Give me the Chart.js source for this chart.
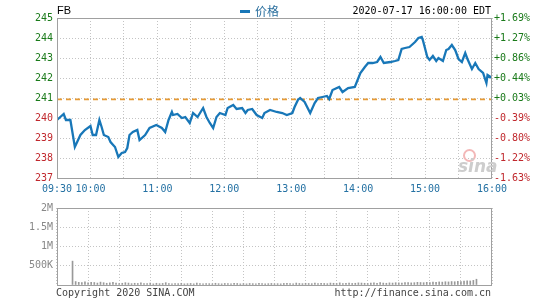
<!DOCTYPE html>
<html>
<head>
<meta charset="utf-8">
<script src="https://cdn.jsdelivr.net/npm/chart.js@4"></script>
<style>
  body { margin: 0; background: #fff; }
  #wrap { position: relative; width: 545px; height: 300px; overflow: hidden; }
  canvas { position: absolute; left: 0; }
  .txt { position: absolute; white-space: nowrap; font: 10px "DejaVu Sans Mono", monospace; line-height: 12px; }
</style>
</head>
<body>
<div id="wrap">
  <canvas id="priceChart" width="545" height="200" style="top:0"></canvas>
  <canvas id="volChart" width="545" height="102" style="top:198px"></canvas>
  <div class="txt" style="left:57px; top:4px; font:11px 'Liberation Sans', Arial, sans-serif; line-height:13px; color:#000">FB</div>
  <div style="position:absolute; left:240px; top:10px; width:10px; height:3px; background:#1877b8"></div>
  <div class="txt" style="left:255px; top:3px; font:12px 'Noto Sans CJK SC', sans-serif; line-height:15px; color:#2a6f9e">价格</div>
  <div class="txt" style="right:54px; top:5px; color:#000">2020-07-17 16:00:00 EDT</div>
  <div style="position:absolute; left:463px; top:149px; width:9px; height:9px; border:2px solid #f3b8b8; border-radius:50%"></div>
  <div class="txt" style="left:458px; top:156px; font:italic bold 17px 'DejaVu Sans', sans-serif; line-height:20px; color:#cdcdcd">sina</div>
  <div class="txt" style="left:56px; top:287px; color:#444">Copyright 2020 SINA.COM</div>
  <div class="txt" style="right:54px; top:287px; color:#444">http://finance.sina.com.cn</div>
</div>
<script>
// minutes after 09:30
const priceTimes = [0, 6, 8, 12, 16, 21, 25, 30, 32, 35, 38, 40, 42, 46, 48, 52, 55, 58, 61, 63,
  65, 68, 72, 74, 79, 83, 89, 94, 97, 100, 103, 104, 108, 112, 115, 119, 122, 126, 131, 134,
  137, 140, 143, 146, 151, 153, 158, 161, 166, 169, 171, 175, 179, 184, 186, 191, 197, 202, 206, 211,
  213, 216, 218, 222, 227, 231, 234, 238, 242, 244, 247, 253, 256, 261, 267, 272, 276, 279, 283, 287,
  290, 293, 299, 303, 306, 309, 312, 316, 321, 324, 327, 328, 332, 334, 337, 340, 342, 346, 349, 351,
  354, 357, 360, 363, 366, 368, 372, 375, 378, 382, 385, 386, 390];
const prices = [239.9, 240.2, 239.9, 239.9, 238.55, 239.15, 239.4, 239.6, 239.15, 239.15, 239.9, 239.55, 239.15, 239.05, 238.8, 238.55, 238.05, 238.25, 238.3, 238.5,
  239.15, 239.3, 239.4, 238.9, 239.15, 239.5, 239.65, 239.5, 239.3, 239.9, 240.3, 240.15, 240.2, 240.0, 240.05, 239.75, 240.25, 240.05, 240.5, 240.05,
  239.75, 239.5, 240.05, 240.25, 240.15, 240.5, 240.65, 240.45, 240.5, 240.25, 240.4, 240.45, 240.15, 240.0, 240.25, 240.4, 240.3, 240.25, 240.15, 240.25,
  240.55, 240.9, 241.0, 240.8, 240.25, 240.75, 241.0, 241.05, 241.1, 240.95, 241.4, 241.55, 241.3, 241.5, 241.55, 242.25, 242.55, 242.75, 242.75, 242.8,
  243.05, 242.75, 242.8, 242.85, 242.9, 243.45, 243.5, 243.55, 243.8, 244.0, 244.05, 243.9, 243.05, 242.9, 243.1, 242.85, 243.0, 242.85, 243.4, 243.45,
  243.65, 243.4, 242.95, 242.8, 243.25, 242.95, 242.45, 242.75, 242.45, 242.25, 241.75, 242.15, 242.0];
const prevClose = 240.93;

// volume in K shares, one bar every 3 minutes
const volStep = 3;
const volumes = [620, 90, 70, 60, 80, 55, 70, 65, 50, 75,
  60, 45, 55, 70, 50, 40, 45, 60, 50, 35,
  45, 40, 55, 35, 40, 50, 30, 45, 35, 40,
  60, 35, 30, 40, 35, 45, 30, 35, 40, 30,
  50, 35, 30, 40, 35, 30, 45, 35, 30, 40,
  35, 30, 45, 40, 30, 35, 30, 40, 35, 30,
  45, 35, 30, 35, 40, 30, 35, 30, 40, 45,
  35, 30, 50, 40, 35, 45, 40, 35, 50, 40,
  45, 40, 35, 50, 45, 40, 55, 40, 45, 50,
  40, 45, 55, 50, 45, 40, 50, 55, 45, 60,
  50, 45, 55, 50, 60, 55, 50, 60, 65, 55,
  60, 70, 65, 60, 70, 65, 75, 70, 80, 75,
  85, 80, 90, 85, 95, 90, 100, 110, 105, 120,
  150];

const GREEN = '#1a7a1a', RED = '#c0282d', GRID = '#c4c4c4';
const mono = { family: '"DejaVu Sans Mono", monospace', size: 10 };

const frame = {
  id: 'frame',
  afterDraw(chart) {
    const a = chart.chartArea, c = chart.ctx;
    c.save();
    c.strokeStyle = '#a0a0a0';
    c.lineWidth = 1;
    c.strokeRect(a.left + 0.5, a.top + 0.5, a.right - a.left - 1, a.bottom - a.top);
    c.restore();
  }
};

function timeLabel(v) {
  if (v === 0) return '09:30';
  if ((v - 30) % 60 === 0) return String(10 + (v - 30) / 60).padStart(2, '0') + ':00';
  return '';
}

function xScale(showTicks, h) {
  return {
    type: 'linear', min: 0, max: 390,
    ticks: { stepSize: 30, autoSkip: false, maxRotation: 0, display: showTicks, padding: 5,
      color: '#2471a3', font: mono, callback: timeLabel },
    grid: { color: GRID, drawTicks: false },
    border: { display: false, dash: [1, 2] },
    afterFit: s => { s.height = h; }
  };
}

const pctColor = ctx => ctx.tick.value > prevClose ? GREEN : RED;

new Chart(document.getElementById('priceChart'), {
  type: 'line',
  data: {
    datasets: [{
      data: priceTimes.map((t, i) => ({ x: t, y: prices[i] })),
      borderColor: '#1877b8', borderWidth: 2.3, pointRadius: 0, tension: 0
    }, {
      data: [{ x: 0, y: prevClose }, { x: 390, y: prevClose }],
      borderColor: '#e69a35', borderWidth: 1.6, borderDash: [5, 4], pointRadius: 0
    }]
  },
  options: {
    responsive: false, animation: false,
    layout: { padding: { top: 18, left: 0, right: 0, bottom: 0 } },
    plugins: { legend: { display: false }, tooltip: { enabled: false } },
    scales: {
      x: xScale(true, 22),
      y: {
        position: 'left', min: 237, max: 245,
        ticks: { stepSize: 1, padding: 4, color: pctColor, font: mono },
        grid: { color: GRID, drawTicks: false },
        border: { display: false, dash: [1, 2] },
        afterFit: s => { s.width = 57; }
      },
      y2: {
        position: 'right', min: 237, max: 245,
        ticks: { stepSize: 1, padding: 2, color: pctColor, font: mono,
          callback: v => { const p = (v - prevClose) / prevClose * 100; return (p >= 0 ? '+' : '-') + Math.abs(p).toFixed(2) + '%'; } },
        grid: { drawOnChartArea: false, drawTicks: false },
        border: { display: false },
        afterFit: s => { s.width = 53; }
      }
    }
  },
  plugins: [frame]
});

new Chart(document.getElementById('volChart'), {
  type: 'bar',
  data: {
    datasets: [{
      data: volumes.map((v, i) => ({ x: i * volStep, y: v })),
      backgroundColor: '#999', barThickness: 1
    }]
  },
  options: {
    responsive: false, animation: false,
    layout: { padding: { top: 4, left: 0, right: 53, bottom: 0 } },
    plugins: { legend: { display: false }, tooltip: { enabled: false } },
    scales: {
      x: xScale(false, 15),
      y: {
        min: 0, max: 2000,
        ticks: { stepSize: 500, padding: 4, color: '#888', font: mono,
          callback: v => v === 0 ? '' : (v >= 1000 ? (v / 1000) + 'M' : v + 'K') },
        grid: { color: GRID, drawTicks: false },
        border: { display: false, dash: [1, 2] },
        afterFit: s => { s.width = 57; }
      }
    }
  },
  plugins: [frame]
});
</script>
</body>
</html>
